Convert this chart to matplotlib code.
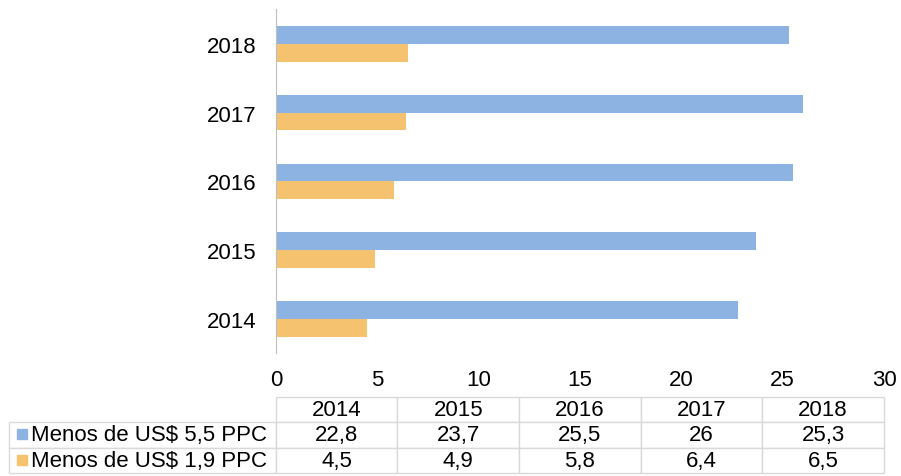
import matplotlib.pyplot as plt
from matplotlib.patches import Rectangle

years = ['2014', '2015', '2016', '2017', '2018']
menos_55 = [22.8, 23.7, 25.5, 26, 25.3]
menos_19 = [4.5, 4.9, 5.8, 6.4, 6.5]
labels = ['Menos de US$ 5,5 PPC', 'Menos de US$ 1,9 PPC']
colors = ['#8DB3E2', '#F5C36F']

plt.rcParams['font.family'] = ['Liberation Sans', 'DejaVu Sans']

fig = plt.figure(figsize=(9.01, 4.77), dpi=100)
ax = fig.add_axes([276 / 901, 1 - 354.4 / 477, 608 / 901, 344 / 477])

pos = list(range(len(years)))
h = 0.26
ax.barh([p + h / 2 for p in pos], menos_55, height=h, color=colors[0])
ax.barh([p - h / 2 for p in pos], menos_19, height=h, color=colors[1])

ax.set_xlim(0, 30)
ax.set_ylim(-0.5, 4.5)
ax.set_yticks(pos)
ax.set_yticklabels(years)
ax.set_xticks([0, 5, 10, 15, 20, 25, 30])
ax.tick_params(axis='both', length=0, labelsize=16)
ax.tick_params(axis='y', pad=14)
ax.tick_params(axis='x', pad=11)
for s in ['top', 'right', 'bottom']:
    ax.spines[s].set_visible(False)
ax.spines['left'].set_color('#BFBFBF')

# data table under the chart
fmt = lambda v: ('%g' % v).replace('.', ',')
cell_text = [[labels[0]] + [fmt(v) for v in menos_55],
             [labels[1]] + [fmt(v) for v in menos_19]]
col_w = [267 / 875.3] + [121.6 / 875.3] * 5
x0 = (8.7 - 276) / 608
y_top = (354.4 - 398) / 344
y_bot = (354.4 - 474) / 344
tbl = ax.table(cellText=cell_text, colLabels=[''] + years, colWidths=col_w,
               cellLoc='center', bbox=[x0, y_bot, (884 - 8.7) / 608, y_top - y_bot])
tbl.auto_set_font_size(False)
tbl.set_fontsize(16)
for (r, c), cell in tbl.get_celld().items():
    cell.set_edgecolor('#D9D9D9')
    cell.set_linewidth(1)
    if r == 0 and c == 0:
        cell.visible_edges = ''
    if c == 0 and r > 0:
        cell.get_text().set_ha('left')
        cell.PAD = 0.085

# colored legend keys in the table
for i, col in enumerate(colors):
    yc = 435 + i * 26
    fig.patches.append(Rectangle((17 / 901, 1 - (yc + 5) / 477), 10 / 901, 10 / 477,
                                 transform=fig.transFigure, color=col))

fig.savefig('out.png', dpi=100)
